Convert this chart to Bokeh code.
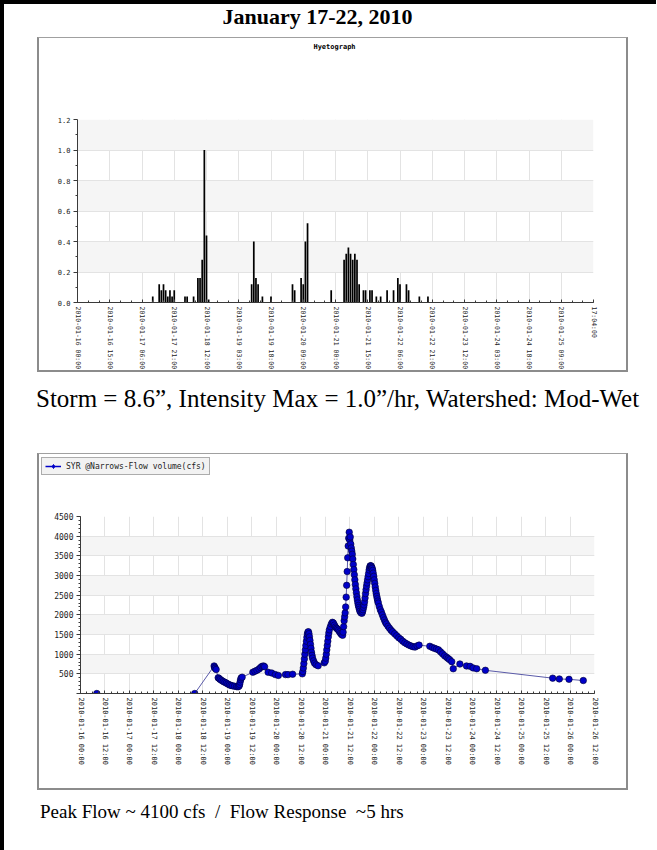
import numpy as np
import pandas as pd
from bokeh.plotting import figure
from bokeh.models import (ColumnDataSource, FixedTicker, Label, Legend, LegendItem, Div,
                          NumeralTickFormatter, Range1d)
from bokeh.layouts import column
from bokeh.embed import file_html
from bokeh.resources import INLINE

# ---------------- data ----------------
start_time = "2010-01-16 00:00"

# Hyetograph (rain intensity, in/hr)
rain_time = [
    "2010-01-17 11:00", "2010-01-17 14:00", "2010-01-17 15:00", "2010-01-17 16:00", "2010-01-17 17:00",
    "2010-01-17 18:00", "2010-01-17 19:00", "2010-01-17 20:00", "2010-01-17 21:00", "2010-01-18 02:00",
    "2010-01-18 03:00", "2010-01-18 06:00", "2010-01-18 08:00", "2010-01-18 09:00", "2010-01-18 10:00",
    "2010-01-18 11:00", "2010-01-18 12:00", "2010-01-18 13:00", "2010-01-19 09:00", "2010-01-19 10:00",
    "2010-01-19 11:00", "2010-01-19 12:00", "2010-01-19 14:00", "2010-01-19 18:00", "2010-01-20 04:00",
    "2010-01-20 05:00", "2010-01-20 08:00", "2010-01-20 09:00", "2010-01-20 10:00", "2010-01-20 11:00",
    "2010-01-20 22:00", "2010-01-21 04:00", "2010-01-21 05:00", "2010-01-21 06:00", "2010-01-21 07:00",
    "2010-01-21 08:00", "2010-01-21 09:00", "2010-01-21 10:00", "2010-01-21 11:00", "2010-01-21 13:00",
    "2010-01-21 14:00", "2010-01-21 16:00", "2010-01-21 17:00", "2010-01-21 19:00", "2010-01-21 21:00",
    "2010-01-22 00:00", "2010-01-22 03:00", "2010-01-22 05:00", "2010-01-22 06:00", "2010-01-22 09:00",
    "2010-01-22 10:00", "2010-01-22 15:00", "2010-01-22 19:00",
]
rain_in = [
    0.04, 0.12, 0.08, 0.12, 0.08,
    0.04, 0.08, 0.04, 0.08, 0.04,
    0.04, 0.04, 0.16, 0.16, 0.28,
    1.00, 0.44, 0.02, 0.12, 0.40,
    0.16, 0.12, 0.04, 0.04, 0.12,
    0.08, 0.16, 0.12, 0.40, 0.52,
    0.08, 0.28, 0.32, 0.36, 0.32,
    0.28, 0.32, 0.28, 0.12, 0.08,
    0.08, 0.08, 0.08, 0.04, 0.04,
    0.08, 0.08, 0.16, 0.12, 0.12,
    0.08, 0.04, 0.04,
]
hyeto_tick_time = [
    "2010-01-16 00:00", "2010-01-16 15:00", "2010-01-17 06:00", "2010-01-17 21:00", "2010-01-18 12:00",
    "2010-01-19 03:00", "2010-01-19 18:00", "2010-01-20 09:00", "2010-01-21 00:00", "2010-01-21 15:00",
    "2010-01-22 06:00", "2010-01-22 21:00", "2010-01-23 12:00", "2010-01-24 03:00", "2010-01-24 18:00",
    "2010-01-25 09:00", "2010-01-26 00:00",
]
hyeto_tick_label = hyeto_tick_time[:-1] + ["17:04:00"]
hyeto_y_ticks = [0.0, 0.2, 0.4, 0.6, 0.8, 1.0, 1.2]

# Flow (cfs)
flow_time = [
    "2010-01-16 08:00", "2010-01-18 08:00", "2010-01-18 17:30", "2010-01-18 17:45", "2010-01-18 18:00",
    "2010-01-18 18:30", "2010-01-18 19:30", "2010-01-18 20:00", "2010-01-18 20:30", "2010-01-18 21:15",
    "2010-01-18 22:00", "2010-01-18 22:45", "2010-01-18 23:30", "2010-01-19 00:15", "2010-01-19 01:00",
    "2010-01-19 01:45", "2010-01-19 02:30", "2010-01-19 03:30", "2010-01-19 04:30", "2010-01-19 05:15",
    "2010-01-19 05:45", "2010-01-19 06:00", "2010-01-19 06:15", "2010-01-19 06:30", "2010-01-19 06:45",
    "2010-01-19 07:15", "2010-01-19 12:30", "2010-01-19 13:30", "2010-01-19 14:30", "2010-01-19 15:30",
    "2010-01-19 16:15", "2010-01-19 17:00", "2010-01-19 17:45", "2010-01-19 18:15", "2010-01-19 20:00",
    "2010-01-19 21:45", "2010-01-19 23:30", "2010-01-20 01:00", "2010-01-20 04:30", "2010-01-20 05:45",
    "2010-01-20 08:00", "2010-01-20 12:45", "2010-01-20 13:00", "2010-01-20 13:15", "2010-01-20 13:30",
    "2010-01-20 13:45", "2010-01-20 14:00", "2010-01-20 14:15", "2010-01-20 14:30", "2010-01-20 14:45",
    "2010-01-20 15:00", "2010-01-20 15:15", "2010-01-20 15:30", "2010-01-20 15:45", "2010-01-20 16:00",
    "2010-01-20 16:15", "2010-01-20 16:30", "2010-01-20 16:45", "2010-01-20 17:00", "2010-01-20 17:15",
    "2010-01-20 17:30", "2010-01-20 17:45", "2010-01-20 18:15", "2010-01-20 18:45", "2010-01-20 19:30",
    "2010-01-20 20:30", "2010-01-20 23:30", "2010-01-21 00:00", "2010-01-21 00:15", "2010-01-21 00:30",
    "2010-01-21 00:45", "2010-01-21 01:00", "2010-01-21 01:15", "2010-01-21 01:30", "2010-01-21 01:45",
    "2010-01-21 02:00", "2010-01-21 02:30", "2010-01-21 03:00", "2010-01-21 03:30", "2010-01-21 04:00",
    "2010-01-21 04:30", "2010-01-21 05:00", "2010-01-21 05:30", "2010-01-21 06:00", "2010-01-21 06:30",
    "2010-01-21 07:00", "2010-01-21 07:30", "2010-01-21 08:00", "2010-01-21 08:30", "2010-01-21 08:45",
    "2010-01-21 09:00", "2010-01-21 09:15", "2010-01-21 09:30", "2010-01-21 09:45", "2010-01-21 10:00",
    "2010-01-21 10:15", "2010-01-21 10:30", "2010-01-21 10:45", "2010-01-21 11:00", "2010-01-21 11:15",
    "2010-01-21 11:30", "2010-01-21 11:45", "2010-01-21 12:00", "2010-01-21 12:15", "2010-01-21 12:30",
    "2010-01-21 12:45", "2010-01-21 13:00", "2010-01-21 13:15", "2010-01-21 13:30", "2010-01-21 13:45",
    "2010-01-21 14:00", "2010-01-21 14:15", "2010-01-21 14:30", "2010-01-21 14:45", "2010-01-21 15:00",
    "2010-01-21 15:15", "2010-01-21 15:30", "2010-01-21 15:45", "2010-01-21 16:00", "2010-01-21 16:15",
    "2010-01-21 16:30", "2010-01-21 16:45", "2010-01-21 17:00", "2010-01-21 17:30", "2010-01-21 18:00",
    "2010-01-21 18:15", "2010-01-21 18:30", "2010-01-21 18:45", "2010-01-21 19:00", "2010-01-21 19:15",
    "2010-01-21 19:30", "2010-01-21 19:45", "2010-01-21 20:00", "2010-01-21 20:15", "2010-01-21 20:30",
    "2010-01-21 20:45", "2010-01-21 21:00", "2010-01-21 21:15", "2010-01-21 21:30", "2010-01-21 21:45",
    "2010-01-21 22:00", "2010-01-21 22:15", "2010-01-21 22:30", "2010-01-21 22:45", "2010-01-21 23:00",
    "2010-01-21 23:15", "2010-01-21 23:30", "2010-01-21 23:45", "2010-01-22 00:00", "2010-01-22 00:15",
    "2010-01-22 00:30", "2010-01-22 00:45", "2010-01-22 01:00", "2010-01-22 01:15", "2010-01-22 01:30",
    "2010-01-22 01:45", "2010-01-22 02:00", "2010-01-22 02:30", "2010-01-22 03:00", "2010-01-22 03:30",
    "2010-01-22 04:00", "2010-01-22 04:30", "2010-01-22 05:00", "2010-01-22 05:30", "2010-01-22 06:00",
    "2010-01-22 06:45", "2010-01-22 07:30", "2010-01-22 08:15", "2010-01-22 09:00", "2010-01-22 10:00",
    "2010-01-22 11:00", "2010-01-22 12:00", "2010-01-22 13:00", "2010-01-22 14:00", "2010-01-22 15:00",
    "2010-01-22 16:00", "2010-01-22 17:00", "2010-01-22 18:00", "2010-01-22 19:00", "2010-01-22 20:00",
    "2010-01-22 21:00", "2010-01-22 22:00", "2010-01-23 03:15", "2010-01-23 04:30", "2010-01-23 05:30",
    "2010-01-23 06:30", "2010-01-23 07:30", "2010-01-23 08:30", "2010-01-23 09:30", "2010-01-23 10:30",
    "2010-01-23 11:30", "2010-01-23 12:15", "2010-01-23 13:00", "2010-01-23 14:00", "2010-01-23 14:45",
    "2010-01-23 18:00", "2010-01-23 21:15", "2010-01-23 23:00", "2010-01-24 00:30", "2010-01-24 02:15",
    "2010-01-24 06:30", "2010-01-25 15:30", "2010-01-25 18:45", "2010-01-25 23:30", "2010-01-26 06:30",
]
flow_cfs = [
    0, 0, 700, 670, 640,
    610, 400, 380, 355, 330,
    305, 285, 265, 240, 220,
    205, 195, 185, 175, 170,
    190, 230, 290, 350, 395,
    415, 540, 565, 590, 620,
    660, 690, 700, 680, 540,
    520, 480, 460, 480, 480,
    490, 500, 560, 650, 760,
    880, 1000, 1110, 1220, 1330,
    1430, 1510, 1560, 1570, 1520,
    1440, 1350, 1250, 1150, 1050,
    970, 900, 830, 770, 730,
    705, 780, 820, 900, 1000,
    1110, 1220, 1330, 1440, 1540,
    1620, 1700, 1770, 1810, 1790,
    1740, 1690, 1660, 1640, 1610,
    1570, 1530, 1500, 1480, 1560,
    1700, 1850, 1950, 2050, 2200,
    2450, 2750, 3100, 3450, 3750,
    3950, 4100, 3900, 3980, 3800,
    3700, 3620, 3540, 3420, 3280,
    3150, 3020, 2890, 2770, 2660,
    2560, 2460, 2380, 2300, 2240,
    2190, 2140, 2090, 2050, 2040,
    2080, 2130, 2190, 2250, 2330,
    2430, 2540, 2640, 2730, 2810,
    2890, 2970, 3050, 3140, 3200,
    3240, 3250, 3240, 3210, 3180,
    3130, 3060, 2980, 2890, 2800,
    2710, 2620, 2540, 2470, 2410,
    2350, 2300, 2210, 2130, 2070,
    2000, 1930, 1870, 1810, 1770,
    1710, 1660, 1610, 1570, 1520,
    1470, 1420, 1380, 1330, 1290,
    1260, 1230, 1210, 1190, 1180,
    1210, 1230, 1200, 1170, 1150,
    1130, 1110, 1060, 1010, 960,
    920, 890, 860, 810, 630,
    750, 700, 690, 650, 630,
    590, 390, 370, 360, 330,
]
flow_tick_label = [
    "2010-01-16 00:00", "2010-01-16 12:00", "2010-01-17 00:00", "2010-01-17 12:00", "2010-01-18 00:00",
    "2010-01-18 12:00", "2010-01-19 00:00", "2010-01-19 12:00", "2010-01-20 00:00", "2010-01-20 12:00",
    "2010-01-21 00:00", "2010-01-21 12:00", "2010-01-22 00:00", "2010-01-22 12:00", "2010-01-23 00:00",
    "2010-01-23 12:00", "2010-01-24 00:00", "2010-01-24 12:00", "2010-01-25 00:00", "2010-01-25 12:00",
    "2010-01-26 00:00", "2010-01-26 12:00",
]
flow_y_ticks = [0, 500, 1000, 1500, 2000, 2500, 3000, 3500, 4000, 4500]

chart_title = "January 17-22, 2010"
hyeto_title = "Hyetograph"
caption_storm = "Storm = 8.6\u201d, Intensity Max = 1.0\u201d/hr, Watershed: Mod-Wet"
caption_flow = "Peak Flow ~ 4100 cfs&nbsp; /&nbsp; Flow Response&nbsp; ~5 hrs"
legend_label = "SYR @Narrows-Flow volume(cfs)"

# ---------------- helpers ----------------
T0 = pd.Timestamp(start_time)


def hours(ts_list):
    return list((pd.to_datetime(pd.Series(ts_list)) - T0) / pd.Timedelta(hours=1))


def key(v):
    return int(v) if float(v).is_integer() else float(v)


MONO = "DejaVu Sans Mono"
GRID = "#e3e3e3"
BAND = "#f5f5f5"
AXIS = "#3a3a3a"
EDGE = "2px solid #8c8c8c"
TOP_STYLE = {"border-left": EDGE, "border-right": EDGE, "border-top": "1px solid #a0a0a0"}
BOTTOM_STYLE = {"border-left": EDGE, "border-right": EDGE, "border-bottom": EDGE}
BOX_W = 591


def header(height):
    """Top strip of a chart box: plain canvas (no axes) whose frame fills it."""
    h = figure(width=BOX_W, height=height, x_range=Range1d(0, BOX_W - 4), y_range=Range1d(0, height - 1),
               x_axis_location=None, y_axis_location=None, output_backend="svg",
               toolbar_location=None, min_border=0, frame_align=False,
               styles=TOP_STYLE, margin=(0, 0, 0, 33))
    h.grid.visible = False
    h.outline_line_color = None
    h.background_fill_color = "white"
    h.border_fill_color = "white"
    return h


def style_axes(p, xfont, yfont):
    for ax in p.xaxis:
        ax.axis_line_color = AXIS
        ax.major_tick_line_color = AXIS
        ax.minor_tick_line_color = AXIS
        ax.major_tick_in = 3
        ax.major_tick_out = 0
        ax.minor_tick_in = 2
        ax.minor_tick_out = 0
        ax.major_label_orientation = "vertical"
        ax.major_label_text_font = MONO
        ax.major_label_text_font_size = xfont
        ax.major_label_text_color = "#222222"
        ax.major_label_standoff = 4
    for ax in p.yaxis:
        ax.axis_line_color = AXIS
        ax.major_tick_line_color = AXIS
        ax.minor_tick_line_color = AXIS
        ax.major_tick_in = 0
        ax.major_tick_out = 4
        ax.minor_tick_in = 0
        ax.minor_tick_out = 2
        ax.major_label_text_font = MONO
        ax.major_label_text_font_size = yfont
        ax.major_label_text_color = "#222222"
        ax.major_label_standoff = 3
    p.xgrid.grid_line_color = GRID
    p.ygrid.grid_line_color = GRID
    p.ygrid.band_fill_color = BAND
    p.ygrid.band_fill_alpha = 1.0
    p.outline_line_color = None
    p.background_fill_color = "white"
    p.border_fill_color = "white"


# ---------------- hyetograph ----------------
H1 = 40
p1h = header(H1)
p1h.add_layout(Label(x=293, y=H1 - 1 - 8, text=hyeto_title, text_align="center",
                     text_baseline="middle", text_font=MONO, text_font_size="7px",
                     text_font_style="bold", text_color="black"))

rain_x = hours(rain_time)
h_ticks = hours(hyeto_tick_time)
p1 = figure(width=BOX_W, height=335 - H1, x_range=Range1d(0, h_ticks[-1]), y_range=Range1d(0, 1.2),
            output_backend="svg", toolbar_location=None, frame_align=False,
            min_border_left=38, min_border_right=37, min_border_top=42, min_border_bottom=69,
            styles=BOTTOM_STYLE, margin=(0, 0, 0, 33))
p1.vbar(x="x", top="v", width=0.8, source=ColumnDataSource(dict(x=rain_x, v=rain_in)),
        fill_color="black", line_color=None)
p1.xaxis.ticker = FixedTicker(ticks=h_ticks, minor_ticks=list(np.arange(0, h_ticks[-1] + 1, 5.0)))
p1.xaxis.major_label_overrides = {key(t): lab for t, lab in zip(h_ticks, hyeto_tick_label)}
p1.xgrid.ticker = FixedTicker(ticks=h_ticks)
p1.yaxis.ticker = FixedTicker(ticks=hyeto_y_ticks, minor_ticks=list(np.arange(0, 1.21, 0.1)))
p1.yaxis.formatter = NumeralTickFormatter(format="0.0")
p1.ygrid.ticker = FixedTicker(ticks=hyeto_y_ticks)
style_axes(p1, "6.5px", "7px")

# ---------------- flow ----------------
H2 = 30
p2h = header(H2)
# legend swatch renderers (a single NaN point: nothing is drawn in the strip itself)
leg_line = p2h.line(x=[np.nan], y=[np.nan], line_color="#0000c8", line_width=1.5)
leg_mark = p2h.scatter(x=[np.nan], y=[np.nan], marker="diamond", size=10,
                       fill_color="#0000c8", line_color="#0000c8")
legend = Legend(items=[LegendItem(label=legend_label, renderers=[leg_line, leg_mark])],
                location=(2, H2 - 1 - 4 - 16), margin=0, label_text_font=MONO,
                label_text_font_size="8px", label_text_color="#222222", glyph_width=16,
                glyph_height=10, label_height=10, padding=3, spacing=0, label_standoff=5,
                border_line_color="#666666", border_line_width=1,
                background_fill_color="#f2f2f2", background_fill_alpha=1.0)
p2h.add_layout(legend)

flow_x = hours(flow_time)
f_ticks = hours(flow_tick_label)
p2 = figure(width=BOX_W, height=337 - H2, x_range=Range1d(0, f_ticks[-1]), y_range=Range1d(0, 4500),
            output_backend="svg", toolbar_location=None, frame_align=False,
            min_border_left=41, min_border_right=36, min_border_top=33, min_border_bottom=97,
            styles=BOTTOM_STYLE, margin=(0, 0, 0, 33))
src = ColumnDataSource(dict(x=flow_x, y=flow_cfs))
p2.line("x", "y", source=src, line_color="#5a5aa8", line_width=1)
p2.scatter("x", "y", source=src, size=6.5, fill_color="#0000c8", line_color="#000033", line_width=0.6)
p2.xaxis.ticker = FixedTicker(ticks=f_ticks, minor_ticks=list(np.arange(0, f_ticks[-1] + 1, 3.0)))
p2.xaxis.major_label_overrides = {key(t): lab for t, lab in zip(f_ticks, flow_tick_label)}
p2.xgrid.ticker = FixedTicker(ticks=f_ticks)
p2.yaxis.ticker = FixedTicker(ticks=flow_y_ticks, minor_ticks=list(np.arange(0, 4501, 100.0)))
p2.yaxis.major_label_overrides = {0: ""}
p2.ygrid.ticker = FixedTicker(ticks=flow_y_ticks)
style_axes(p2, "7px", "8px")

# ---------------- text blocks ----------------
serif = "'Liberation Serif', 'Times New Roman', serif"
title_div = Div(text=chart_title, width=627, height=33, margin=(0, 0, 0, 0),
                styles={"font-family": serif, "font-weight": "bold", "font-size": "22px",
                        "text-align": "center", "line-height": "26px", "color": "black"})
cap1 = Div(text=f'<div style="padding-top:15px;white-space:nowrap">{caption_storm}</div>',
           width=620, height=81, margin=(0, 0, 0, 32),
           styles={"font-family": serif, "font-size": "25px", "line-height": "24px", "color": "black"})
cap2 = Div(text=f'<div style="padding-top:10px;white-space:nowrap">{caption_flow}</div>',
           width=600, height=60, margin=(0, 0, 0, 36),
           styles={"font-family": serif, "font-size": "19px", "line-height": "24px", "color": "black"})

page = column(title_div, p1h, p1, cap1, p2h, p2, cap2, spacing=0,
              styles={"border-top": "4px solid black", "border-left": "4px solid black"})

open("out.html", "w").write(file_html(page, INLINE))
